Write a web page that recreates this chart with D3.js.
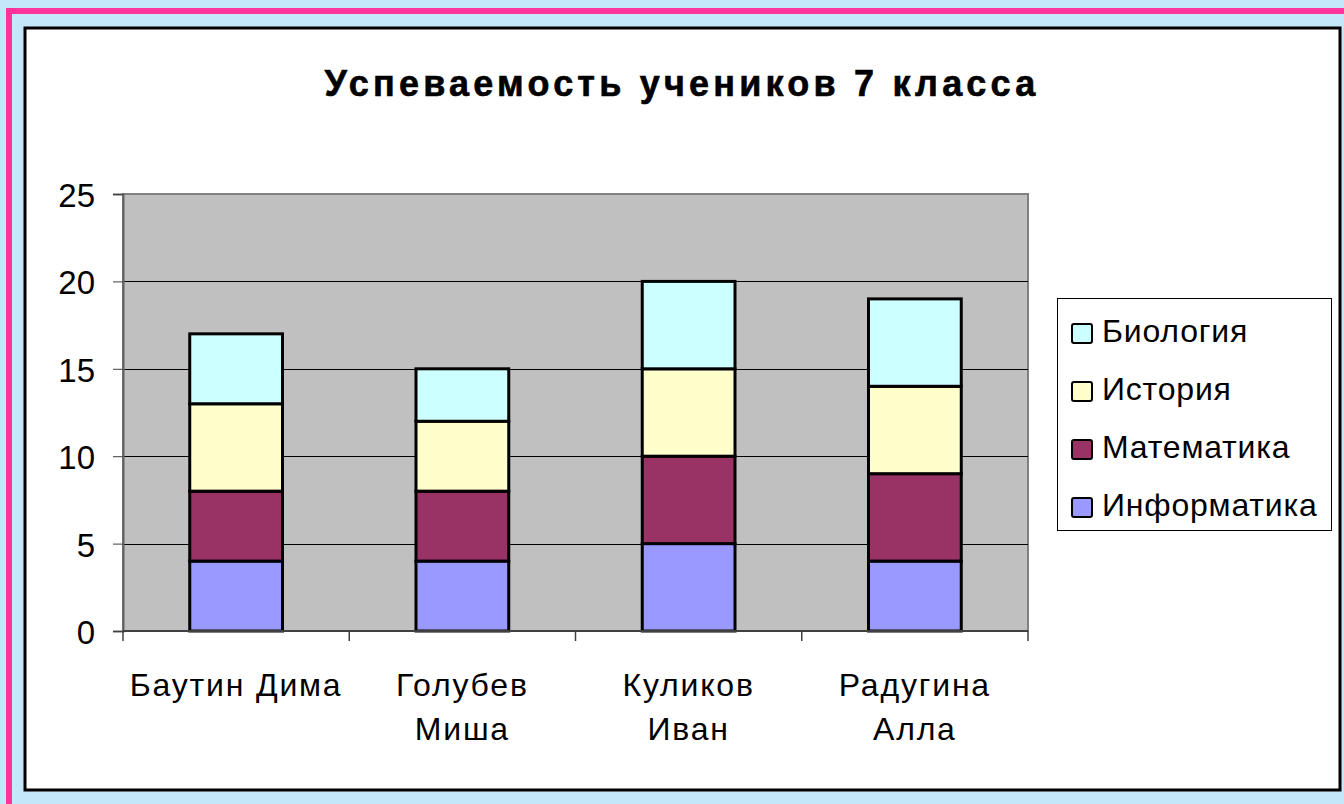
<!DOCTYPE html>
<html>
<head>
<meta charset="utf-8">
<script src="https://cdn.jsdelivr.net/npm/d3@7"></script>
<style>
  body { margin: 0; background: #c5e7fa; }
  svg { display: block; font-family: "Liberation Sans", Arial, sans-serif; }
</style>
</head>
<body>
<div class="chart"></div>
<script>
/* Data
============================================= */
const students = [["Баутин Дима"], ["Голубев", "Миша"], ["Куликов", "Иван"], ["Радугина", "Алла"]];
const subjects = ["Информатика", "Математика", "История", "Биология"];
const informatika = [4, 4, 5, 4];
const matematika = [4, 4, 5, 5];
const istoriya = [5, 4, 5, 5];
const biologiya = [4, 3, 5, 5];
const yTicks = [0, 5, 10, 15, 20, 25];
const colors = ["#9999ff", "#993366", "#ffffcc", "#ccffff"];

const SVG_WIDTH = 1344;
const SVG_HEIGHT = 804;

var plot = { left: 123, right: 1028, top: 194, bottom: 631 };

var svg = d3.select(".chart")
    .append("svg")
    .attr("width", SVG_WIDTH)
    .attr("height", SVG_HEIGHT);

// outer frame
svg.append("rect").attr("width", SVG_WIDTH).attr("height", SVG_HEIGHT).attr("fill", "#c5e7fa");
svg.append("path")
    .attr("d", "M9,804 V11 H1344")
    .attr("fill", "none")
    .attr("stroke", "#ff3399")
    .attr("stroke-width", 6);
svg.append("rect")
    .attr("x", 25).attr("y", 28)
    .attr("width", 1315).attr("height", 762)
    .attr("fill", "#ffffff")
    .attr("stroke", "#000")
    .attr("stroke-width", 3);

// title
svg.append("text")
    .attr("x", 682).attr("y", 96)
    .attr("text-anchor", "middle")
    .attr("font-size", 36)
    .attr("font-weight", "bold")
    .attr("letter-spacing", 4.2)
    .attr("stroke", "#000")
    .attr("stroke-width", 0.6)
    .text("Успеваемость учеников 7 класса");

// scales
var x = d3.scaleBand()
    .domain(d3.range(students.length))
    .range([plot.left, plot.right])
    .paddingInner(0).paddingOuter(0);

var y = d3.scaleLinear().domain([0, 25]).range([plot.bottom, plot.top]);

// plot area
svg.append("rect")
    .attr("x", plot.left).attr("y", plot.top)
    .attr("width", plot.right - plot.left).attr("height", plot.bottom - plot.top)
    .attr("fill", "#c0c0c0")
    .attr("stroke", "#808080")
    .attr("stroke-width", 2);

// gridlines
svg.append("g")
    .selectAll("line")
    .data(yTicks.filter(d => d > 0 && d < 25))
    .enter().append("line")
    .attr("x1", plot.left).attr("x2", plot.right)
    .attr("y1", d => Math.round(y(d)) + 0.5).attr("y2", d => Math.round(y(d)) + 0.5)
    .attr("stroke", "#000").attr("stroke-width", 1);

// stacked bars
var series = [informatika, matematika, istoriya, biologiya];
var rows = students.map(function(s, i) {
    var row = { i: i };
    subjects.forEach(function(sub, k) { row[sub] = series[k][i]; });
    return row;
});
var stack = d3.stack().keys(subjects)(rows);

var bw = x.bandwidth() * 0.41;
svg.append("g")
    .selectAll("g")
    .data(stack)
    .enter().append("g")
    .attr("fill", (d, k) => colors[k])
    .selectAll("rect")
    .data(d => d)
    .enter().append("rect")
    .attr("x", d => x(d.data.i) + x.bandwidth() / 2 - bw / 2)
    .attr("y", d => y(d[1]))
    .attr("width", bw)
    .attr("height", d => y(d[0]) - y(d[1]))
    .attr("stroke", "#000")
    .attr("stroke-width", 3);

// y axis
var leftAxis = d3.axisLeft(y).tickValues(yTicks).tickSize(10).tickPadding(18);
var yAxis = svg.append("g")
    .attr("transform", `translate(${plot.left}, 0)`)
    .call(leftAxis);
yAxis.select(".domain").attr("stroke", "#606060").attr("stroke-width", 2);
yAxis.selectAll(".tick line").attr("stroke", "#404040");
yAxis.selectAll("text")
    .attr("font-size", 33)
    .attr("dy", "0.38em")
    .attr("fill", "#000")
    .attr("font-family", "Liberation Sans, Arial, sans-serif");

// x axis
svg.append("line")
    .attr("x1", plot.left).attr("x2", plot.right)
    .attr("y1", plot.bottom).attr("y2", plot.bottom)
    .attr("stroke", "#404040").attr("stroke-width", 2);
svg.append("g")
    .selectAll("line")
    .data(d3.range(students.length + 1))
    .enter().append("line")
    .attr("x1", d => plot.left + d * x.step()).attr("x2", d => plot.left + d * x.step())
    .attr("y1", plot.bottom).attr("y2", plot.bottom + 10)
    .attr("stroke", "#404040").attr("stroke-width", 1.5);

var xLabels = svg.append("g")
    .selectAll("text")
    .data(students)
    .enter().append("text")
    .attr("x", (d, i) => x(i) + x.bandwidth() / 2)
    .attr("y", 696)
    .attr("text-anchor", "middle")
    .attr("letter-spacing", 1.8)
    .attr("font-size", 32);
xLabels.selectAll("tspan")
    .data(d => d)
    .enter().append("tspan")
    .attr("x", function() { return d3.select(this.parentNode).attr("x"); })
    .attr("dy", (d, j) => j === 0 ? 0 : 44)
    .text(d => d);

// legend
var legend = svg.append("g");
legend.append("rect")
    .attr("x", 1057.5).attr("y", 298.5)
    .attr("width", 274).attr("height", 232)
    .attr("fill", "#fff")
    .attr("stroke", "#000").attr("stroke-width", 1);

var legendKeys = subjects.slice().reverse();
var legendItem = legend.selectAll("g.item")
    .data(legendKeys)
    .enter().append("g")
    .attr("class", "item")
    .attr("transform", (d, i) => `translate(1072, ${333 + i * 58})`);
legendItem.append("rect")
    .attr("x", 0).attr("y", -9)
    .attr("width", 20).attr("height", 19)
    .attr("rx", 2)
    .attr("fill", d => colors[subjects.indexOf(d)])
    .attr("stroke", "#000").attr("stroke-width", 2);
legendItem.append("text")
    .attr("x", 30).attr("y", 9)
    .attr("font-size", 32)
    .attr("letter-spacing", 0.8)
    .text(d => d);
</script>
</body>
</html>
